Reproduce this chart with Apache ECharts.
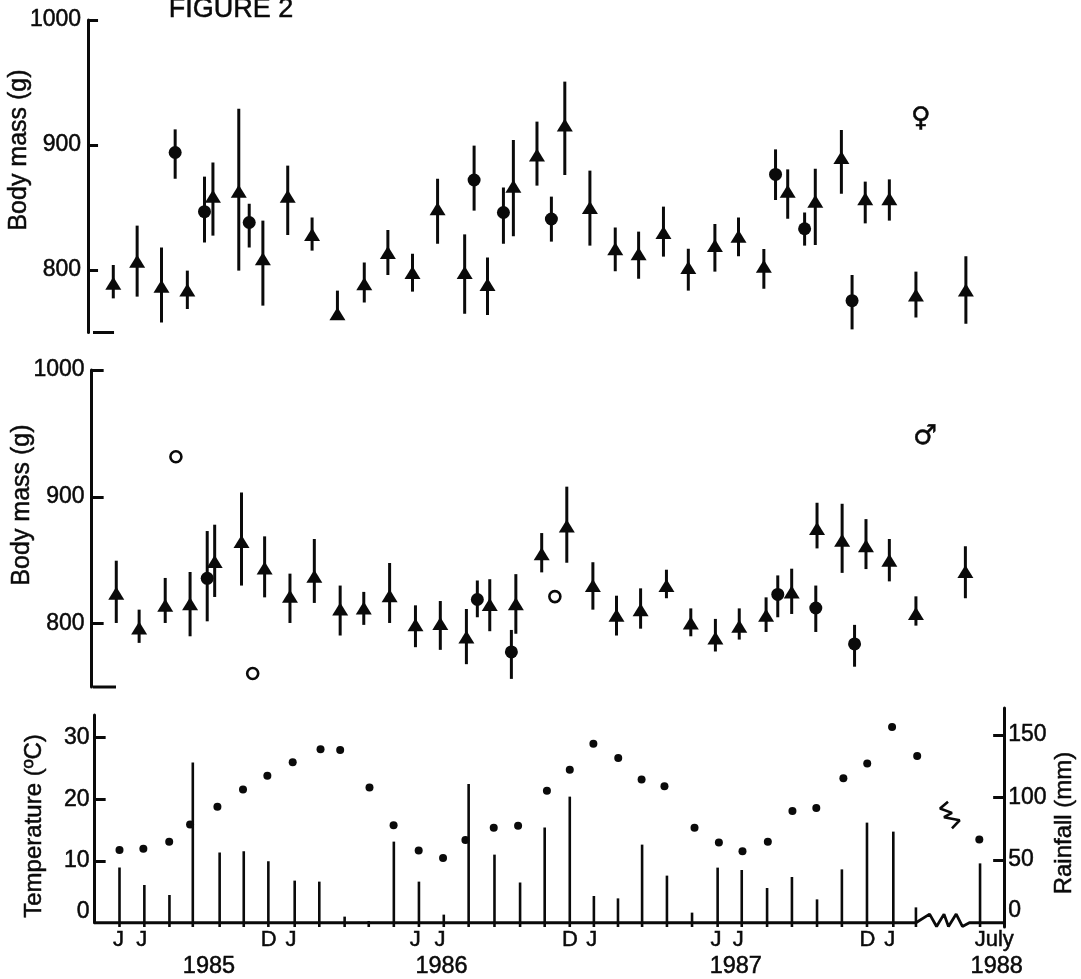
<!DOCTYPE html>
<html><head><meta charset="utf-8">
<style>html,body{margin:0;padding:0;background:#fff}#c{width:1081px;height:979px}</style>
<script src="https://cdn.jsdelivr.net/npm/echarts@6/dist/echarts.min.js"></script>
</head><body><div id="c"></div>
<script>
// Female panel: triangles
const femTriX=[-0.25,0.71,1.69,2.73,3.76,4.80,5.77,6.77,7.75,8.77,9.85,10.8,11.79,12.8,13.89,14.81,15.85,16.8,17.92,18.93,19.95,20.89,21.89,22.89,23.96,24.91,25.93,26.89,28,29.05,30.01,30.98,32.05,34.06];
const femTriMean=[789.5,807,787,784,859,863,809,859,828.5,765,789,814,798,849,798,788.5,867,892,916,850,817,813,830,802,819.7,827,803,863,855,890,857,857,780,784];
const femTriLow=[777.3,778.7,758,768.8,827.5,799.5,771.5,828,815.5,760,774,796,782.7,821,765,764,827,867.5,876,819.5,799,793,810.7,783.5,798.7,811,785,841,820,861,837.3,839.5,762,757];
const femTriHigh=[804,835.5,818,799.5,886,929,839.5,883.5,842,783.5,806,832,813,873,828.5,810,904,918.7,950.7,879.5,834,830.7,850.7,817,836.8,842,816.8,880.5,881,912,870.7,872.5,798.7,811];
// Female panel: filled circles
const femDotX=[2.24,3.42,5.22,14.27,15.45,17.38,26.4,27.57,29.48];
const femDotMean=[894,846.7,838,872,846,840.8,876.5,833,775.5];
const femDotLow=[873,822,818,847.5,821,822.7,856,819.5,752.5];
const femDotHigh=[912.5,874.7,853,899.5,866,858.7,896.5,846,796];
// Male panel: triangles
const malTriX=[-0.13,0.79,1.84,2.84,3.83,4.91,5.84,6.86,7.84,8.88,9.83,10.87,11.91,12.91,13.96,14.9,15.95,16.99,18,19.05,20,20.97,22.01,22.99,23.98,24.94,26.02,27.05,28.07,29.08,30.04,30.98,32.05,34.04];
const malTriMean=[824,796.6,814.4,815.7,849,864.8,843.8,821.5,837.3,811.5,812.3,822,799,800,789.5,815,815.7,855,877,830,806.6,811,830,800.5,788.7,798,806.6,825,875,865.8,861.4,849.9,808,841];
const malTriLow=[800.5,784.8,800.5,790,821,830,820.7,800.5,816.3,790.6,799,800.5,781.4,779.3,768,794,792,840.4,848,811,790.6,796,820,790,778,787.4,793.4,807.6,859.3,840,843,833.3,798.4,820];
const malTriHigh=[849.6,811,836,840.7,878,903.4,868.8,839.4,866.7,830,825,847.8,814.4,817.8,811.5,835,839,871.4,908,848.4,822,827.8,842.5,812,803.7,812,820.7,843.3,895.3,894.5,882.4,866.7,821.5,861];
// Male panel: filled circles
const malDotX=[3.53,14.4,15.77,26.49,28.02,29.58];
const malDotMean=[835.7,819,777.7,823,812.3,784];
const malDotLow=[801.8,805,756.4,805,793.4,766];
const malDotHigh=[873,834,795,838,830,799];
// Male panel: open circles
const malOpenX=[2.27,5.36,17.52];
const malOpenMean=[931.6,760.6,821.3];
// Climate panel
const rainX=[0,1,2.01,2.95,4.03,5,5.99,7.05,8.04,9.06,10.03,11.04,12.05,13.05,14.05,15.09,16.12,17.11,18.12,19.09,20.06,21.03,22.03,23.04,24.07,25.04,26.06,27.06,28.07,29.07,30.08,31.14,32.05,34.63];
const rainMm=[44,30,22,128,56,57,49,33.5,32.7,4.7,1.2,64.7,32.7,6.3,110.8,54.3,32,76,100.7,21.2,19.3,62.3,37.5,7.9,43.9,42,27.6,36.4,18.5,42.5,79.9,72.7,12.1,47.3];
const tempX=[0,0.96,2,2.84,3.94,4.97,5.95,6.97,8.09,8.88,10.06,11.03,12.04,13.02,13.92,15.06,16.04,17.2,18.12,19.07,20.07,21.01,21.93,23.14,24.12,25.07,26.09,27.08,28.04,29.13,30.09,31.09,32.1,34.6];
const tempC=[11.8,12,13.1,15.9,18.8,21.6,23.8,26,28.1,28,21.9,15.8,11.7,10.5,13.4,15.4,15.7,21.4,24.8,29,26.7,23.2,22.1,15.4,13,11.6,13.1,18.1,18.6,23.4,25.8,31.7,27,13.5];
// Tick labels
const monthPos=[-0.04,0.9,6,6.9,11.9,12.9,18.13,19,24,24.9,30.1,31,35.2];
const monthText=['J','J','D','J','J','J','D','J','J','J','D','J','July'];
const yearPos=[3.6,12.96,24.8,35.3];
const yearText=['1985','1986','1987','1988'];
const massTicks=[800,900,1000];
const tempTicks=[0,10,20,30];
const rainTicks=[0,50,100,150];
// Axis details
const baselineX=[-1,32.05,32.6,32.88,33.18,33.36,33.67,33.92,34.2,35.6];
const baselineC=[0,0,1.4,-0.6,1.4,-0.6,1.4,-0.6,0,0];
const breakX=[33.34,33.02,33.5,33.18,33.81,33.5];
const breakC=[19.6,18.5,17.8,17.1,16.6,15.3];

const FONT='"Liberation Sans",Arial,sans-serif';
const INK='#0a0a0a';
const X_MIN=-1,X_MAX=35.6,RAIN_MIN=-3.6;
const zip=(...a)=>a[0].map((_,i)=>a.map(c=>c[i]));
const L=94.65,W=909.5;
const HEAVY={textBorderColor:INK,textBorderWidth:0.5};
const grid=[
 {left:L,width:W,top:20,height:312.5},
 {left:L,width:W,top:370,height:317},
 {left:L,width:W,top:715,height:212},
 {left:L,width:W,top:708,height:219}
];
const hiddenX=i=>({type:'value',gridIndex:i,min:X_MIN,max:X_MAX,show:false});
const xAxis=[
 hiddenX(0),hiddenX(1),
 {type:'value',gridIndex:2,min:X_MIN,max:X_MAX,position:'bottom',
  axisLine:{show:false,onZero:false},axisTick:{show:false},splitLine:{show:false},
  axisLabel:{customValues:monthPos,formatter:v=>monthText[monthPos.indexOf(v)],margin:6,color:INK,fontFamily:FONT,fontSize:22,...HEAVY}},
 {type:'value',gridIndex:2,min:X_MIN,max:X_MAX,position:'bottom',offset:26,
  axisLine:{show:false,onZero:false},axisTick:{show:false},splitLine:{show:false},
  axisLabel:{customValues:yearPos,formatter:v=>yearText[yearPos.indexOf(v)],margin:6,color:INK,fontFamily:FONT,fontSize:23.5,...HEAVY}},
 hiddenX(3)
];
const axStyle={lineStyle:{color:INK,width:3}};
const massAxis=(g,off,tickLen)=>({type:'value',gridIndex:g,min:750,max:1000,position:'left',offset:off,
 splitLine:{show:false},axisLine:{show:true,onZero:false,...axStyle},
 axisTick:{show:true,inside:true,length:tickLen,customValues:massTicks,...axStyle},
 axisLabel:{customValues:massTicks,margin:7,color:INK,fontFamily:FONT,fontSize:23,formatter:v=>String(v),...HEAVY}});
const yAxis=[
 massAxis(0,6.6,10),
 massAxis(1,3,12),
 {type:'value',gridIndex:2,min:0,max:33.65,position:'left',splitLine:{show:false},
  axisLine:{show:true,onZero:false,...axStyle},
  axisTick:{show:true,inside:true,length:11,customValues:[10,20,30],...axStyle},
  axisLabel:{customValues:tempTicks,verticalAlignMinLabel:'bottom',margin:5,color:INK,fontFamily:FONT,fontSize:23,formatter:v=>String(v),...HEAVY}},
 {type:'value',gridIndex:3,min:RAIN_MIN,max:171.6,position:'right',splitLine:{show:false},
  axisLine:{show:true,onZero:false,...axStyle},
  axisTick:{show:true,inside:true,length:11,customValues:[50,100,150],...axStyle},
  axisLabel:{customValues:rainTicks,verticalAlignMinLabel:'bottom',margin:4,color:INK,fontFamily:FONT,fontSize:23,formatter:v=>String(v),...HEAVY}}
];
const stem=(xi,yi,data,w)=>({type:'custom',xAxisIndex:xi,yAxisIndex:yi,clip:false,silent:true,data,
 encode:{x:0,y:[1,2]},
 renderItem:(p,api)=>{const a=api.coord([api.value(0),api.value(1)]),b=api.coord([api.value(0),api.value(2)]);
  return {type:'line',shape:{x1:a[0],y1:a[1],x2:b[0],y2:b[1]},style:{stroke:INK,lineWidth:w}};}});
const marks=(xi,yi,data,symbol,size,extra)=>({type:'scatter',xAxisIndex:xi,yAxisIndex:yi,clip:false,silent:true,data,symbol,symbolSize:size,
 itemStyle:Object.assign({color:INK,opacity:1},extra||{}),z:3});
const path=(xi,yi,data,w)=>({type:'line',xAxisIndex:xi,yAxisIndex:yi,clip:false,silent:true,data,symbol:'none',
 lineStyle:{color:INK,width:w},z:2,animation:false});
const TRI=[16,13],DOT=13;
const series=[
 stem(0,0,zip(femTriX,femTriLow,femTriHigh),3),
 stem(0,0,zip(femDotX,femDotLow,femDotHigh),3),
 marks(0,0,zip(femTriX,femTriMean),'triangle',TRI),
 marks(0,0,zip(femDotX,femDotMean),'circle',DOT),
 path(0,0,[[-1.27,750],[-0.22,750]],3),
 stem(1,1,zip(malTriX,malTriLow,malTriHigh),3),
 stem(1,1,zip(malDotX,malDotLow,malDotHigh),3),
 marks(1,1,zip(malTriX,malTriMean),'triangle',TRI),
 marks(1,1,zip(malDotX,malDotMean),'circle',DOT),
 marks(1,1,zip(malOpenX,malOpenMean),'circle',11,{color:'#fff',borderColor:INK,borderWidth:2.6}),
 path(1,1,[[-1.1,750],[-0.14,750]],3),
 stem(4,3,rainX.map((x,i)=>[x,RAIN_MIN,rainMm[i]]),2.6),
 marks(2,2,zip(tempX,tempC),'circle',8),
 path(2,2,zip(baselineX,baselineC),2.8),
 path(2,2,zip(breakX,breakC),2.6)
];
const vText=(text,x,y,size)=>({type:'text',x,y,rotation:Math.PI/2,silent:true,
 style:{text,fill:INK,stroke:INK,lineWidth:0.5,font:size+'px '+FONT,textAlign:'center',textVerticalAlign:'middle'}});
const symText=(text,x,y)=>({type:'text',x,y,silent:true,
 style:{text,fill:INK,stroke:INK,lineWidth:0.5,font:'27px "DejaVu Sans",sans-serif',textAlign:'center',textVerticalAlign:'middle'}});
const graphic=[
 {type:'text',x:231,y:10,silent:true,style:{text:'FIGURE 2',fill:INK,stroke:INK,lineWidth:0.5,font:'27px '+FONT,textAlign:'center',textVerticalAlign:'middle'}},
 vText('Body mass (g)',19,150,25),
 vText('Body mass (g)',22,505,25),
 vText('Temperature (ºC)',34,826,24),
 vText('Rainfall (mm)',1064,823,24),
 symText('♀',921,119),
 symText('♂',925,437)
];
const chart=echarts.init(document.getElementById('c'),null,{renderer:'canvas'});
chart.setOption({animation:false,backgroundColor:'#fff',grid,xAxis,yAxis,series,graphic});
</script></body></html>
